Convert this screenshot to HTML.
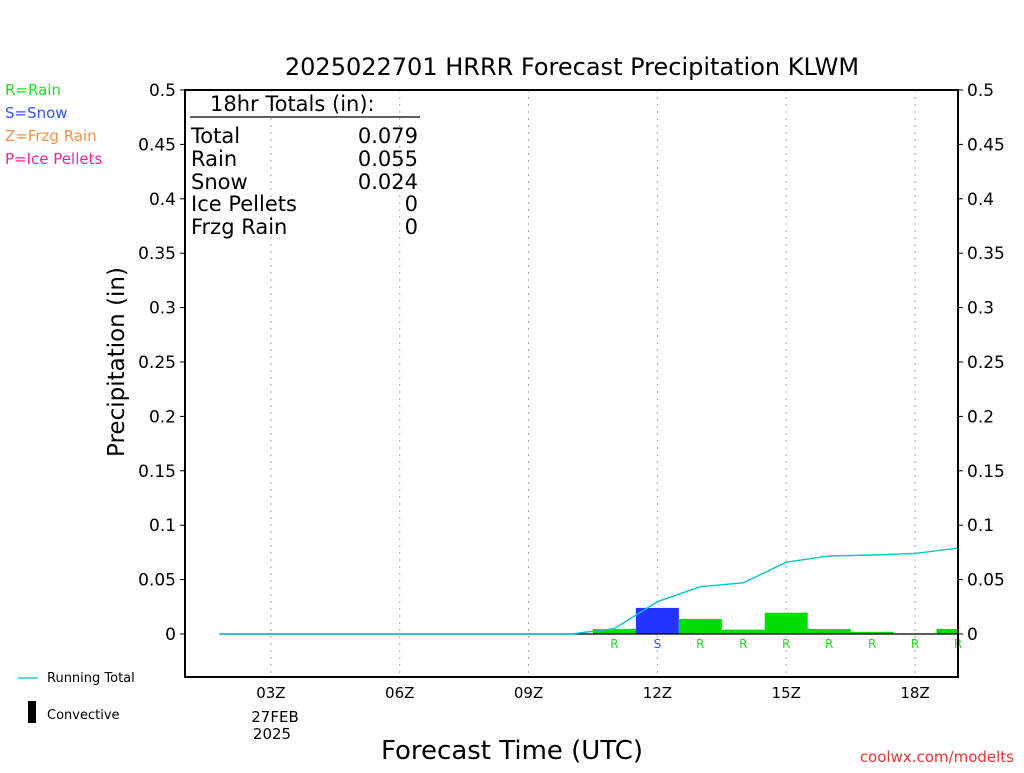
<!DOCTYPE html>
<html><head><meta charset="utf-8"><style>
body{margin:0;background:#fff}
svg text{font-family:"DejaVu Sans","Liberation Sans",sans-serif}
</style></head><body>
<svg id="c" width="1024" height="768" xmlns="http://www.w3.org/2000/svg">
<rect width="1024" height="768" fill="#fff"/>
<text x="572" y="75" font-size="24" text-anchor="middle" fill="#000">2025022701 HRRR Forecast Precipitation KLWM</text>
<g font-size="15">
<text x="5" y="95" fill="#22dd22">R=Rain</text>
<text x="5" y="118" fill="#3355ff">S=Snow</text>
<text x="5" y="141" fill="#f0904a">Z=Frzg Rain</text>
<text x="5" y="164" fill="#ff2299">P=Ice Pellets</text>
</g>
<g id="grid"></g>
<g id="bars"></g>
<g id="axes"></g>
<g font-size="21" fill="#000">
<text x="210" y="111">18hr Totals (in):</text>
<line x1="190" y1="117" x2="420" y2="117" stroke="#000" stroke-width="1.2"/>
<text x="191" y="143">Total</text><text x="418" y="143" text-anchor="end">0.079</text>
<text x="191" y="166">Rain</text><text x="418" y="166" text-anchor="end">0.055</text>
<text x="191" y="189">Snow</text><text x="418" y="189" text-anchor="end">0.024</text>
<text x="191" y="211">Ice Pellets</text><text x="418" y="211" text-anchor="end">0</text>
<text x="191" y="234">Frzg Rain</text><text x="418" y="234" text-anchor="end">0</text>
</g>
<text transform="translate(124,362) rotate(-90)" font-size="23" text-anchor="middle">Precipitation (in)</text>
<text x="512" y="759" font-size="26" text-anchor="middle">Forecast Time (UTC)</text>
<text x="1014" y="762" font-size="15" fill="#ee3333" text-anchor="end">coolwx.com/modelts</text>
<g>
<line x1="18" y1="678" x2="38" y2="678" stroke="#00c8c8" stroke-width="1.2"/>
<text x="47" y="682" font-size="13">Running Total</text></g>
<g>
<rect x="28" y="701" width="8" height="22" fill="#000"/>
<text x="47" y="719" font-size="13">Convective</text></g>
<text x="275" y="739" font-size="15" text-anchor="middle"><tspan x="275" y="722">27FEB</tspan><tspan x="272" y="739">2025</tspan></text>
</svg>
<script>
const barHours=[11,12,13,14,15,16,17,18,19];
const barValues=[0.0046,0.024,0.0138,0.004,0.0196,0.0046,0.002,0.0005,0.0046];
const barTypes=["R","S","R","R","R","R","R","R","R"];
const totalHours=[1.8,3,4,5,6,7,8,9,10,11,12,13,14,15,16,17,18,19];
const totalValues=[0,0,0,0,0,0,0,0,0,0.005,0.0297,0.0435,0.047,0.066,0.0717,0.0726,0.074,0.079];
const yTicks=[0,0.05,0.1,0.15,0.2,0.25,0.3,0.35,0.4,0.45,0.5];
const xTickHours=[3,6,9,12,15,18];
const xTickLabels=["03Z","06Z","09Z","12Z","15Z","18Z"];
const L=185,R=958,T=90,B=677;
const x=h=>L+(h-1)*(R-L)/18;
const y=v=>634-v*1088;
const NS="http://www.w3.org/2000/svg";
function mk(p,t,a){const e=document.createElementNS(NS,t);for(const k in a)e.setAttribute(k,a[k]);p.appendChild(e);return e;}
const grid=document.getElementById('grid'),bars=document.getElementById('bars'),axes=document.getElementById('axes');
xTickHours.forEach((h,i)=>{
 const g=mk(grid,'line',{x1:x(h),x2:x(h),y1:T,y2:B,stroke:'#aaa','stroke-dasharray':'2,5'});
 
 
 const t=mk(axes,'text',{x:x(h),y:698,'font-size':15,'text-anchor':'middle'});
 t.textContent=xTickLabels[i];
 
 
});
const bw=(R-L)/18;
barHours.forEach((h,i)=>{
 const x0=x(h)-bw/2,x1=Math.min(x(h)+bw/2,R);
 const r=mk(bars,'rect',{x:x0,y:y(barValues[i]),width:x1-x0,height:y(0)-y(barValues[i]),fill:barTypes[i]=='S'?'#2233ff':'#00dd00'});
 
 
 const t=mk(bars,'text',{x:x(h),y:648,'font-size':12,'text-anchor':'middle',fill:barTypes[i]=='S'?'#3355ff':'#22dd22'});
 t.textContent=barTypes[i];
 
 
});
const zl=mk(bars,'line',{x1:x(totalHours[0]),x2:R,y1:y(0),y2:y(0),stroke:'#000','stroke-width':1.2});


const pl=mk(bars,'polyline',{points:totalHours.map((h,i)=>x(h)+','+y(totalValues[i])).join(' '),fill:'none',stroke:'#00c8c8','stroke-width':1.4});


const fr=mk(axes,'rect',{x:L,y:T,width:R-L,height:B-T,fill:'none',stroke:'#000','stroke-width':2});


yTicks.forEach(v=>{
 mk(axes,'line',{x1:L-5,x2:L,y1:y(v),y2:y(v),stroke:'#000'});
 mk(axes,'line',{x1:R,x2:R+5,y1:y(v),y2:y(v),stroke:'#000'});
 const a=mk(axes,'text',{x:L-9,y:y(v)+6,'font-size':17,'text-anchor':'end'});a.textContent=String(v);
 
 
 const b=mk(axes,'text',{x:R+9,y:y(v)+6,'font-size':17});b.textContent=String(v);
 
 
});
</script>
</body></html>
